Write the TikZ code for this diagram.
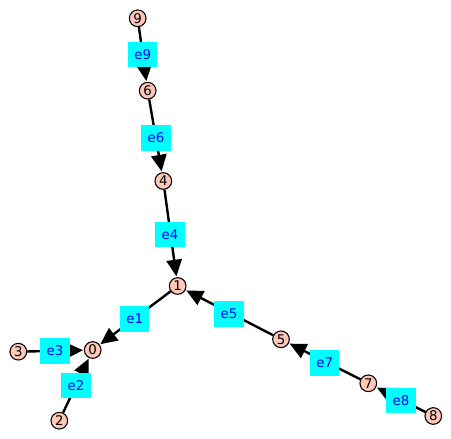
\documentclass[tikz,border=0pt]{standalone}
\usepackage{fontspec}
\setmainfont{DejaVu Sans}
\usetikzlibrary{arrows.meta}
\definecolor{vfill}{HTML}{FEC7B8}
\definecolor{lblue}{RGB}{0,0,255}
\definecolor{lcyan}{RGB}{0,255,255}
\tikzset{
  vert/.style={circle,draw=black,line width=0.8pt,fill=vfill,minimum size=12.5pt,inner sep=0pt,font=\fontsize{10}{10}\selectfont},
  elab/.style={rectangle,fill=lcyan,text=lblue,minimum width=22pt,minimum height=19pt,inner sep=0pt,font=\fontsize{10}{10}\selectfont},
  edge/.style={line width=1.8pt,-{Triangle[length=12.5pt,width=11.5pt]},shorten >=0.6pt}
}
\begin{document}
\begin{tikzpicture}[x=0.75pt,y=-0.75pt]
\useasboundingbox (0,0) rectangle (451,439);
\node[vert] (v9) at (137.7,18.3) {9};
\node[vert] (v6) at (147.7,90.7) {6};
\node[vert] (v4) at (163.3,181) {4};
\node[vert] (v1) at (177.7,286) {1};
\node[vert] (v0) at (92.7,350) {0};
\node[vert] (v3) at (18.3,351.7) {3};
\node[vert] (v2) at (59.3,420.7) {2};
\node[vert] (v5) at (281,339.3) {5};
\node[vert] (v7) at (368.3,383.3) {7};
\node[vert] (v8) at (433.3,416) {8};
\draw[edge] (v9) -- (v6);
\draw[edge] (v6) -- (v4);
\draw[edge] (v4) -- (v1);
\draw[edge] (v5) -- (v1);
\draw[edge] (v1) -- (v0);
\draw[edge] (v3) -- (v0);
\draw[edge] (v2) -- (v0);
\draw[edge] (v7) -- (v5);
\draw[edge] (v8) -- (v7);
\node[elab] (e9) at (142.7,54.7) {e9};
\node[elab] (e6) at (156,138) {e6};
\node[elab] (e4) at (170,234.7) {e4};
\node[elab] (e1) at (134.7,319) {e1};
\node[elab] (e3) at (55,351) {e3};
\node[elab] (e2) at (76,385.5) {e2};
\node[elab] (e5) at (229,314) {e5};
\node[elab] (e7) at (324.7,363) {e7};
\node[elab] (e8) at (401,400.5) {e8};
\end{tikzpicture}
\end{document}
